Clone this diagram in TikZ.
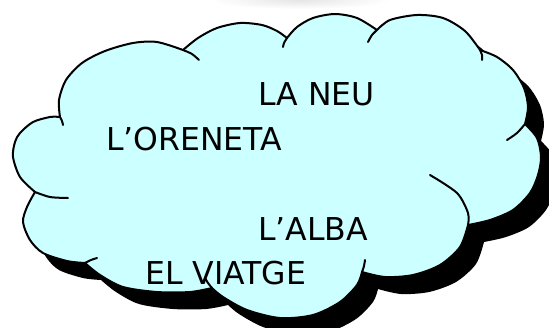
\documentclass[tikz,border=0pt]{standalone}
\usepackage{fontspec}
\setmainfont{DejaVu Sans}
\definecolor{cloudfill}{RGB}{204,255,255}
\tikzset{
  cloudpath/.style={insert path={
    (60,117)
    -- plot[smooth] coordinates {(60,117) (59,100) (66,80) (82,63) (105,51) (133,43) (157,42) (183,50)}
    -- plot[smooth] coordinates {(183,50) (198,38) (217,28) (240,23) (262,25) (277,31) (287,38)}
    -- plot[smooth] coordinates {(287,38) (297,27) (313,18) (335,14) (357,18) (377,30)}
    -- plot[smooth] coordinates {(377,30) (390,20) (417,15) (443,18) (465,31) (480,50)}
    -- plot[smooth] coordinates {(480,50) (497,57) (513,70) (524,88) (528,107) (525,124)}
    -- plot[smooth] coordinates {(525,124) (537,138) (541,157) (538,175) (530,193) (513,210) (490,220) (468,225)}
    -- plot[smooth] coordinates {(468,225) (460,247) (440,265) (413,275) (385,277) (362,272)}
    -- plot[smooth] coordinates {(362,272) (357,285) (340,302) (313,315) (280,318) (247,310) (223,297) (212,288)}
    -- plot[smooth] coordinates {(212,288) (190,292) (157,292) (123,287) (100,275) (85,263)}
    -- plot[smooth] coordinates {(85,263) (67,261) (43,253) (30,240) (23,222) (27,207) (35,192)}
    -- plot[smooth] coordinates {(35,192) (20,177) (13,157) (15,142) (20,133) (33,122) (50,117) (60,117)}
    -- cycle}},
  cloudline/.style={line width=2pt, line cap=round, line join=round},
  word/.style={anchor=base west, inner sep=0pt, font=\fontsize{31.5}{38}\selectfont}
}
\begin{document}
\begin{tikzpicture}[x=1pt,y=-1pt]
\useasboundingbox (0,0) rectangle (549,327);
\shade[inner color=black!10, outer color=white] (300,0) ellipse [x radius=90, y radius=9];
% shadow
\fill[black, shift={(16,17)}, cloudpath];
% cloud body
\fill[cloudfill, cloudpath];
% texts
\node[word] (neu) at (258,105) {LA NEU};
\node[word] (oreneta) at (106,150) {L’ORENETA};
\node[word] (alba) at (258,240) {L’ALBA};
\node[word] (viatge) at (145,284) {EL VIATGE};
% outline
\draw[cloudline, cloudpath];
% inner ticks
\draw[cloudline] plot[smooth] coordinates {(60,117) (62,121) (63,125)};
\draw[cloudline] plot[smooth] coordinates {(183,50) (192,54) (199,60)};
\draw[cloudline] plot[smooth] coordinates {(287,38) (284,43) (283,47)};
\draw[cloudline] plot[smooth] coordinates {(377,30) (372,35) (368,42)};
\draw[cloudline] plot[smooth] coordinates {(480,50) (482,55) (482,60)};
\draw[cloudline] plot[smooth] coordinates {(525,124) (517,133) (507,140)};
\draw[cloudline] plot[smooth] coordinates {(468,225) (468,213) (457,193) (430,175)};
\draw[cloudline] plot[smooth] coordinates {(362,272) (364,266) (365,260)};
\draw[cloudline] plot[smooth] coordinates {(212,288) (208,283) (205,278)};
\draw[cloudline] plot[smooth] coordinates {(85,263) (91,260) (97,258)};
\draw[cloudline] plot[smooth] coordinates {(35,192) (50,197) (68,198)};
\end{tikzpicture}
\end{document}
